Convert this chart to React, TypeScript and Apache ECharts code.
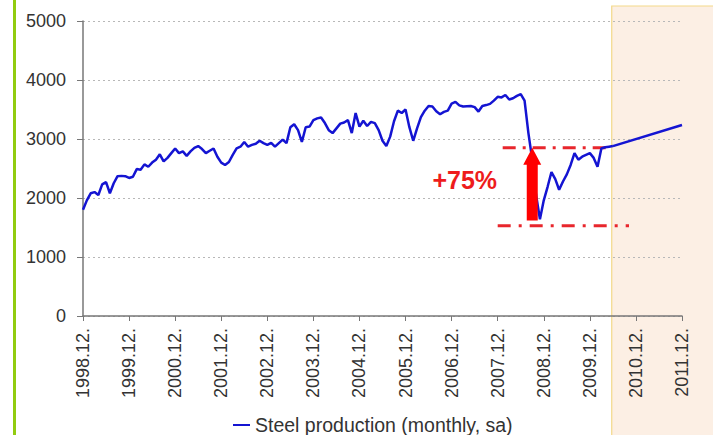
import React, { useEffect, useRef } from 'react';
import * as echarts from 'echarts';

const xTickLabels = [
  '1998.12.', '1999.12.', '2000.12.', '2001.12.', '2002.12.', '2003.12.', '2004.12.',
  '2005.12.', '2006.12.', '2007.12.', '2008.12.', '2009.12.', '2010.12.', '2011.12.',
];
const yTicks = [0, 1000, 2000, 3000, 4000, 5000];

// Monthly values starting 1998.12 (index 0) to 2010.06 (index 138)
const steelProduction = [
  1800, 1960, 2080, 2100, 2050, 2230, 2270, 2080, 2250, 2370, 2375, 2370,
  2340, 2360, 2490, 2480, 2570, 2530, 2600, 2650, 2740, 2620, 2680, 2760,
  2840, 2760, 2790, 2715, 2790, 2850, 2880, 2830, 2760, 2800, 2840, 2700,
  2600, 2560, 2610, 2730, 2840, 2870, 2950, 2870, 2900, 2920, 2970, 2930,
  2900, 2935, 2870, 2930, 2990, 2930, 3200, 3250, 3150, 2950, 3200, 3210,
  3320, 3350, 3365, 3270, 3150, 3100, 3180, 3260, 3280, 3320, 3100, 3440,
  3210, 3310, 3220, 3290, 3270, 3150, 2970, 2880, 3040, 3300, 3480, 3440,
  3500, 3200, 2970, 3180, 3370, 3480, 3560, 3550, 3470, 3420, 3460, 3480,
  3600, 3630, 3570, 3550, 3555, 3560, 3540, 3465, 3560, 3575, 3595, 3650,
  3715, 3705, 3745, 3670, 3690, 3730, 3760, 3650, 3100, 2650, 2050, 1640,
  1960, 2190, 2440, 2320, 2140, 2280, 2400, 2560, 2760, 2650, 2700, 2730,
  2760, 2680, 2530, 2840, 2860, 2870, 2880,
];
const projectionMonths = [138, 156];
const projectionValues = [2880, 3237];

const preCrisisLevel = 2853;
const troughLevel = 1531;
const upperLineMonths = [109.3, 137.5];
const lowerLineMonths = [108, 142.2];
const arrowMonth = 117;
const arrowBaseValue = 1620;
const changeLabel = '+75%';
const labelMonth = 91;
const labelValue = 2300;
const forecastStartMonth = 137.7;
const seriesName = 'Steel production (monthly, sa)';

export default function App() {
  const ref = useRef<HTMLDivElement>(null);

  useEffect(() => {
    const chart = echarts.init(ref.current!, null, { renderer: 'svg' });
    const font = "'Liberation Sans', Arial, sans-serif";
    const blue = '#1414d2';
    const dashRed = '#e8262c';

    chart.setOption({
      animation: false,
      backgroundColor: '#ffffff',
      textStyle: { fontFamily: font },
      grid: { left: 83, right: 31, top: 21, bottom: 119 },
      legend: {
        data: [seriesName],
        left: 233,
        top: 415,
        padding: 0,
        icon: 'rect',
        itemWidth: 17,
        itemHeight: 2,
        itemGap: 5,
        textStyle: { fontFamily: font, fontSize: 19.5, color: '#333', lineHeight: 20 },
      },
      xAxis: {
        type: 'value',
        min: 0,
        max: (xTickLabels.length - 1) * 12,
        interval: 12,
        axisLine: { show: true, lineStyle: { color: '#777', width: 1.5 } },
        axisTick: { show: true, length: 5, lineStyle: { color: '#777' } },
        splitLine: { show: false },
        axisLabel: {
          rotate: 90,
          margin: 12,
          fontSize: 18,
          color: '#333',
          fontFamily: font,
          formatter: (v: number) => xTickLabels[Math.round(v / 12)] ?? '',
        },
      },
      yAxis: {
        type: 'value',
        min: yTicks[0],
        max: yTicks[yTicks.length - 1],
        interval: 1000,
        axisLine: { show: true, lineStyle: { color: '#777', width: 1.5 } },
        axisTick: { show: true, length: 6, lineStyle: { color: '#777' } },
        splitLine: { show: true, lineStyle: { color: '#b8b8b8', width: 1, type: [2, 3] } },
        axisLabel: {
          margin: 17,
          fontSize: 18,
          color: '#333',
          fontFamily: font,
          formatter: (v: number) => String(v),
        },
      },
      series: [
        {
          name: seriesName,
          type: 'line',
          data: steelProduction.map((v, i) => [i, v]),
          showSymbol: false,
          symbol: 'none',
          lineStyle: { color: blue, width: 2.5 },
          itemStyle: { color: blue },
          z: 3,
        },
        {
          name: 'projection',
          type: 'line',
          data: projectionMonths.map((m, i) => [m, projectionValues[i]]),
          symbol: 'none',
          lineStyle: { color: blue, width: 2.5 },
          z: 3,
        },
        {
          name: 'pre-crisis',
          type: 'line',
          data: upperLineMonths.map((m) => [m, preCrisisLevel]),
          symbol: 'none',
          lineStyle: { color: dashRed, width: 3, type: [13, 7, 3, 7] },
          z: 2,
        },
        {
          name: 'trough',
          type: 'line',
          data: lowerLineMonths.map((m) => [m, troughLevel]),
          symbol: 'none',
          lineStyle: { color: dashRed, width: 3, type: [13, 8, 3, 8] },
          z: 2,
        },
      ],
    });

    const px = (x: number, y: number) => chart.convertToPixel({ gridIndex: 0 }, [x, y]) as number[];
    const shadeLeft = px(forecastStartMonth, 0)[0];
    const tip = px(arrowMonth, preCrisisLevel);
    const base = px(arrowMonth, arrowBaseValue);
    const shaftHalf = 5.5;
    const headHalf = 9;
    const headLen = 17;
    const lbl = px(labelMonth, labelValue);

    chart.setOption({
      graphic: [
        {
          type: 'rect',
          z: -10,
          silent: true,
          shape: { x: shadeLeft, y: 6, width: 713 - shadeLeft + 5, height: 440 },
          style: { fill: '#fcefe4', stroke: '#f3d98a', lineWidth: 1.2 },
        },
        {
          type: 'line',
          z: 10,
          silent: true,
          shape: { x1: 14.5, y1: 0, x2: 14.5, y2: 435 },
          style: { stroke: '#92cc10', lineWidth: 3 },
        },
        {
          type: 'polygon',
          z: 10,
          silent: true,
          shape: {
            points: [
              [tip[0], tip[1]],
              [tip[0] + headHalf, tip[1] + headLen],
              [tip[0] + shaftHalf, tip[1] + headLen],
              [tip[0] + shaftHalf, base[1]],
              [tip[0] - shaftHalf, base[1]],
              [tip[0] - shaftHalf, tip[1] + headLen],
              [tip[0] - headHalf, tip[1] + headLen],
            ],
          },
          style: { fill: '#ff0000' },
        },
        {
          type: 'text',
          z: 10,
          silent: true,
          x: lbl[0],
          y: lbl[1],
          style: {
            text: changeLabel,
            fill: '#ee1c1c',
            font: `bold 25px ${font}`,
            textAlign: 'left',
            textVerticalAlign: 'middle',
          },
        },
      ],
    });

    return () => chart.dispose();
  }, []);

  return (
    <div
      ref={ref}
      style={{ position: 'fixed', left: 0, top: 0, width: 713, height: 435 }}
    />
  );
}
